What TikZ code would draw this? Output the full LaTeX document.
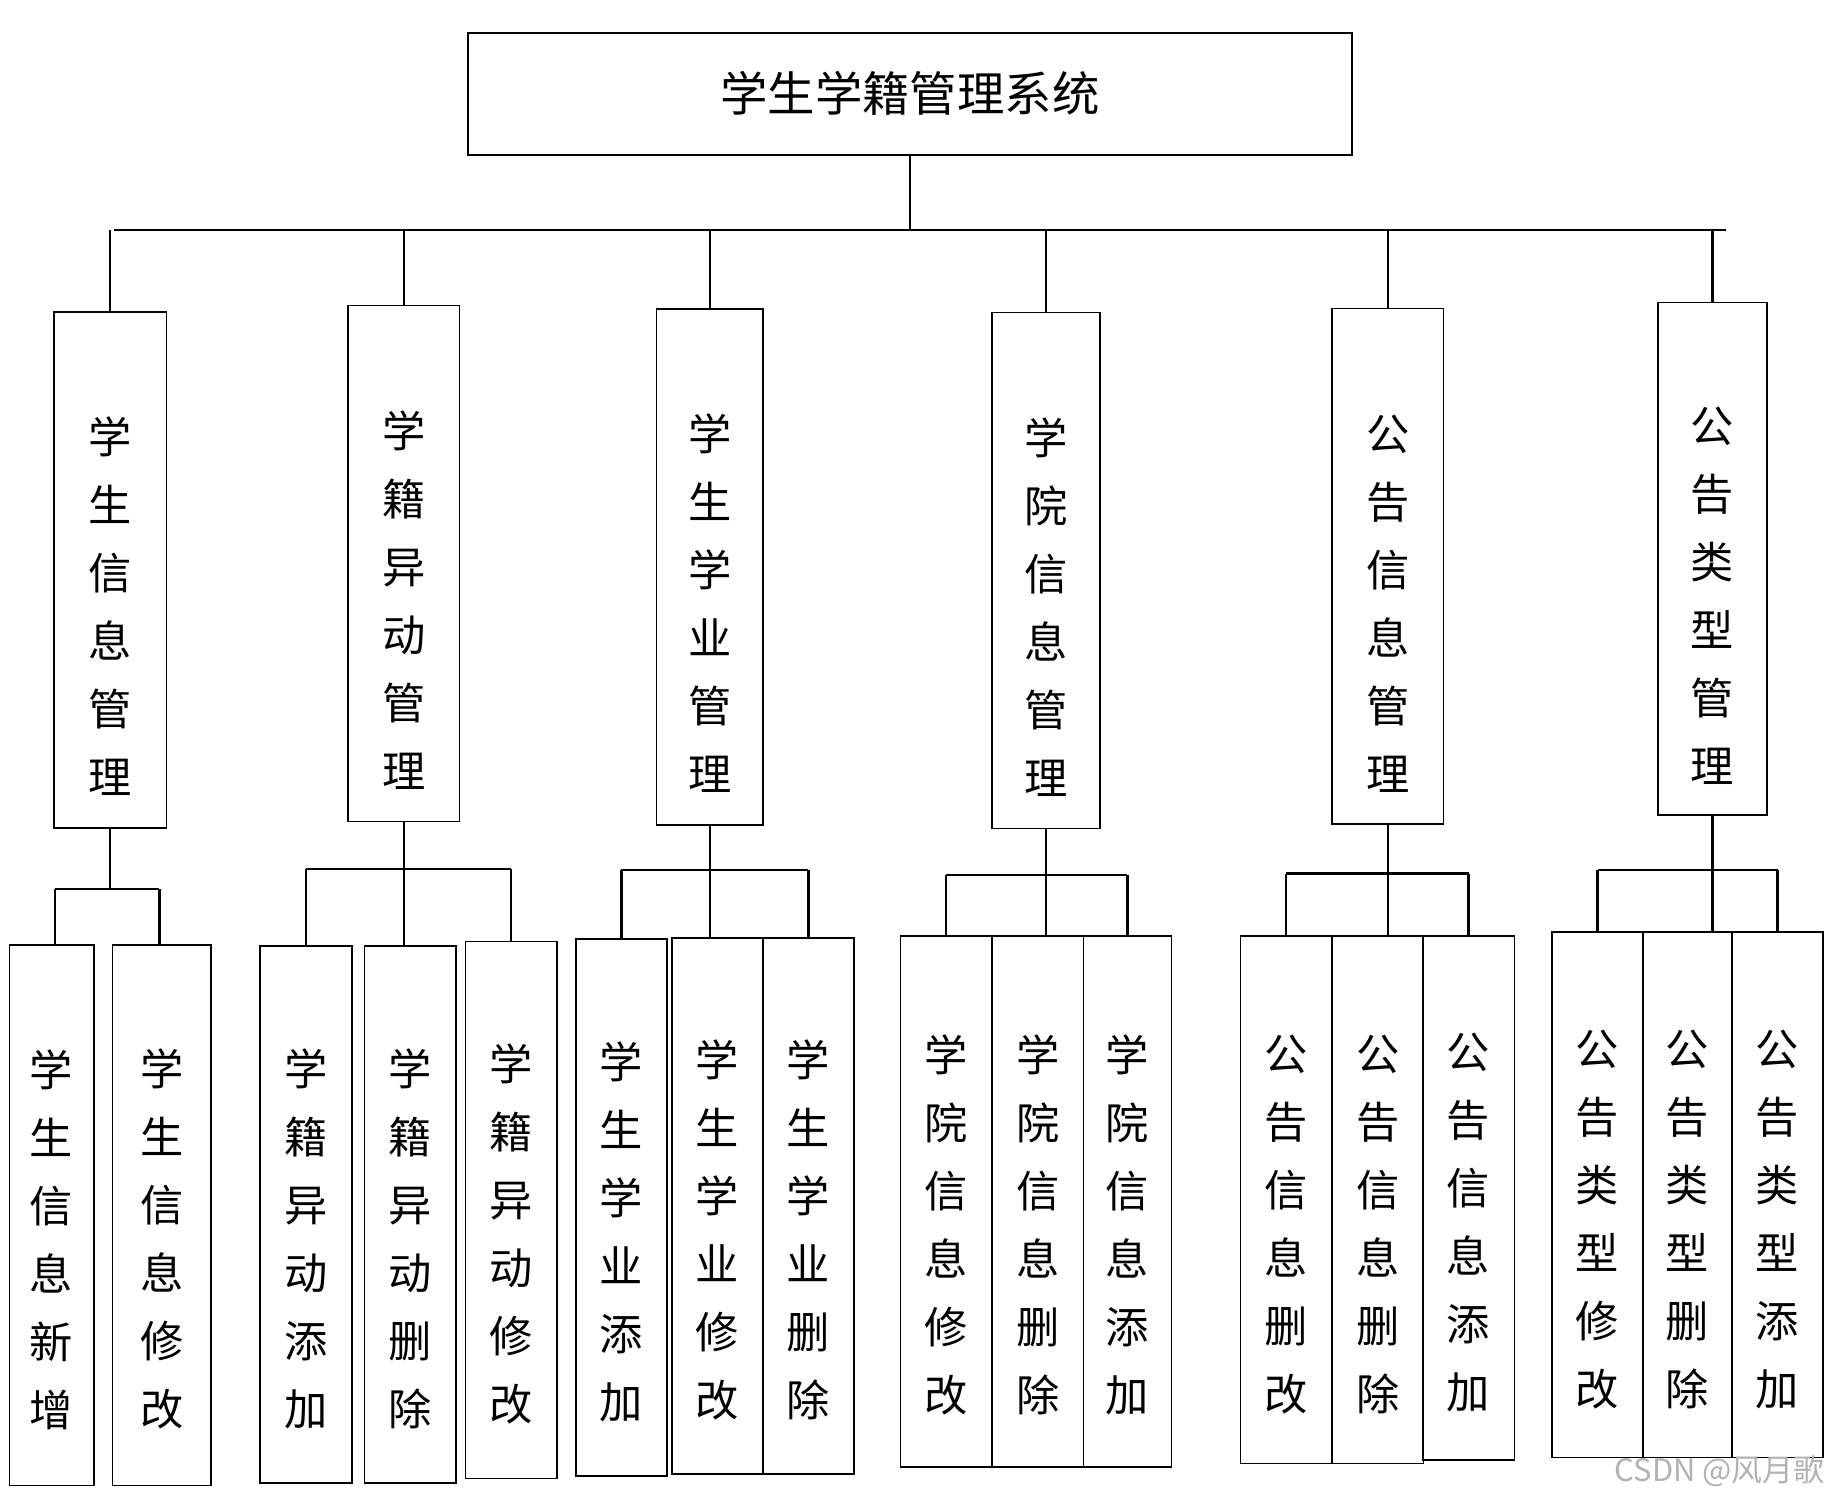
\documentclass[tikz,border=0pt]{standalone}
\usepackage{fontspec}
\setmainfont{Noto Sans CJK SC}
\newcommand{\midpad}{\strut\\[-3pt]}
\newcommand{\leafpad}{\strut\\[-15pt]}
\begin{document}
\begin{tikzpicture}[x=0.2mm,y=-0.2mm,line width=1.1pt,
  box/.style={draw,thick,inner sep=0pt,align=center,font=\fontsize{21}{33}\selectfont},
  mid/.style={box,minimum height=88mm},
  leaf/.style={box,minimum width=15.6mm}]
\useasboundingbox (0,0) rectangle (1565,1280);
% top
\node[box,minimum width=150.8mm,minimum height=20.8mm,font=\fontsize{23}{33}\selectfont] (top) at (776,80) {学生学籍管理系统};
\coordinate (bl) at (97,196);
\coordinate (br) at (1472,196);
\path[draw] (top.south) to (top.south |- bl);
\path[draw] (bl) to (br);
% second level
\node[mid,minimum width=19.2mm] (s1) at (94,486) {\midpad 学\\生\\信\\息\\管\\理};
\node[mid,minimum width=19mm] (s2) at (344.5,480.5) {\midpad 学\\籍\\异\\动\\管\\理};
\node[mid,minimum width=18.2mm] (s3) at (605.5,483.5) {\midpad 学\\生\\学\\业\\管\\理};
\node[mid,minimum width=18.4mm] (s4) at (892,486.5) {\midpad 学\\院\\信\\息\\管\\理};
\node[mid,minimum width=19mm] (s5) at (1183.5,483) {\midpad 公\\告\\信\\息\\管\\理};
\node[mid,minimum width=18.6mm,minimum height=87.4mm] (s6) at (1460.5,476.5) {\midpad 公\\告\\类\\型\\管\\理};
\foreach \s in {s1,s2,s3,s4,s5,s6}
  \path[draw] (\s.north) to (\s.north |- bl);
% third level
\node[leaf,minimum width=14.4mm,minimum height=92.2mm] (a1) at (44,1036.5) {\leafpad 学\\生\\信\\息\\新\\增};
\node[leaf,minimum width=16.8mm,minimum height=92.2mm] (a2) at (138,1036.5) {\leafpad 学\\生\\信\\息\\修\\改};
\node[leaf,minimum height=91.6mm] (b1) at (261,1036) {\leafpad 学\\籍\\异\\动\\添\\加};
\node[leaf,minimum height=91.6mm] (b2) at (350,1036) {\leafpad 学\\籍\\异\\动\\删\\除};
\node[leaf,minimum height=91.6mm] (b3) at (436,1032) {\leafpad 学\\籍\\异\\动\\修\\改};
\node[leaf,minimum height=91.6mm] (c1) at (530,1030) {\leafpad 学\\生\\学\\业\\添\\加};
\node[leaf,minimum height=91.4mm] (c2) at (612,1028.5) {\leafpad 学\\生\\学\\业\\修\\改};
\node[leaf,minimum height=91.4mm] (c3) at (689.5,1028.5) {\leafpad 学\\生\\学\\业\\删\\除};
\node[leaf,minimum height=90.6mm] (d1) at (807,1024.5) {\leafpad 学\\院\\信\\息\\修\\改};
\node[leaf,minimum height=90.6mm] (d2) at (885,1024.5) {\leafpad 学\\院\\信\\息\\删\\除};
\node[leaf,minimum width=15mm,minimum height=90.6mm] (d3) at (961.5,1024.5) {\leafpad 学\\院\\信\\息\\添\\加};
\node[leaf,minimum height=90mm] (e1) at (1097,1023) {\leafpad 公\\告\\信\\息\\删\\改};
\node[leaf,minimum height=90mm] (e2) at (1175,1023) {\leafpad 公\\告\\信\\息\\删\\除};
\node[leaf,minimum height=89.4mm] (e3) at (1252.5,1021.5) {\leafpad 公\\告\\信\\息\\添\\加};
\node[leaf,minimum height=89.6mm] (f1) at (1362.5,1019) {\leafpad 公\\告\\类\\型\\修\\改};
\node[leaf,minimum width=15.2mm,minimum height=89.6mm] (f2) at (1439,1019) {\leafpad 公\\告\\类\\型\\删\\除};
\node[leaf,minimum height=89.6mm] (f3) at (1516,1019) {\leafpad 公\\告\\类\\型\\添\\加};
% branches
\coordinate (ba) at (95,758);
\path[draw] (s1.south) to (s1.south |- ba);
\path[draw] (47,758) to (136,758);
\path[draw] (a1.north -| 47,0) to (47,758);
\path[draw] (a2.north -| 136,0) to (136,758);
\foreach \p/\l/\m/\r/\y in {s2/b1/b2/b3/741,s3/c1/c2/c3/742,s4/d1/d2/d3/746,s5/e1/e2/e3/745,s6/f1/f2/f3/742}{
  \path[draw] (\p.south) to (\p.south |- \m.north);
  \path[draw] (\l.north |- 0,\y) to (\r.north |- 0,\y);
  \path[draw] (\l.north) to (\l.north |- 0,\y);
  \path[draw] (\r.north) to (\r.north |- 0,\y);
}
\node[text=gray!60,font=\fontsize{15}{15}\selectfont,anchor=east] (wm) at (1563,1255) {CSDN @风月歌};
\end{tikzpicture}
\end{document}
